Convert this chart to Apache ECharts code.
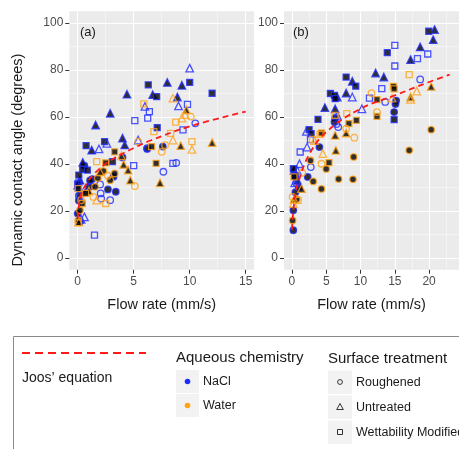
<!DOCTYPE html>
<html>
<head>
<meta charset="utf-8">
<script src="https://cdn.jsdelivr.net/npm/echarts@6/dist/echarts.min.js"></script>
<style>html,body{margin:0;padding:0;background:#fff}#c{width:459px;height:449px}</style>
</head>
<body>
<div id="c"></div>
<script>
// ---------- tick labels ----------
const xTicksA = [0, 5, 10, 15];
const xMinorA = [2.5, 7.5, 12.5];
const xTicksB = [0, 5, 10, 15, 20];
const xMinorB = [2.5, 7.5, 12.5, 17.5, 22.5];
const yTicks = [0, 20, 40, 60, 80, 100];
const yMinor = [10, 30, 50, 70, 90];
const panelLabels = ['(a)', '(b)'];
const xTitle = 'Flow rate (mm/s)';
const yTitle = 'Dynamic contact angle (degrees)';
const chemistry = ['NaCl', 'Water'];
const treatment = ['Roughened', 'Untreated', 'Wettability Modified'];

// ---------- Joos' equation ----------
const joosA = [[0,17],[0.1,22],[0.3,27],[0.7,31],[1.5,36],[3,41.7],[5,46.8],[6.5,50],[10,56],[15,62.3]];
const joosB = [[0,12],[0.2,20],[0.5,27],[1,33],[2.5,44],[5,53.6],[10,63.5],[15,69.2],[20,74.9],[23,78]];

// ---------- panel (a) ----------
const aNaClFilledCircle = [[0.6,39.3],[1.3,33.6],[4.0,42.8],[3.2,34.6],[3.4,28.2],[2.7,29.2],[7.6,47.4],[0.2,26.7],[0,18.9],[0.2,15.4],[0.8,27.9],[1.0,30.3],[6.2,46.4],[0.1,24.5],[1.1,33]];
const aNaClFilledTri = [[4.4,69.7],[2.9,61.6],[1.6,56.6],[8.0,74.7],[9.3,73.5],[6.7,69.5],[8.9,68.5],[4.0,51],[4.2,48.1],[0.45,40.7],[1.25,45.9],[0,31],[0.2,33.1]];
const aNaClFilledSq = [[6.3,73.7],[7.05,68.7],[10.0,74.7],[12.0,70.1],[2.4,49.5],[0.75,47.8],[7.1,55.5],[0.1,35.3],[0.45,37.7],[3.1,41],[0.86,37.4],[0,31.5]];
const aNaClHollowCircle = [[10.5,57.3],[8.8,40.5],[7.65,36.7],[2.0,31.3],[2.05,27.5],[2.9,24.6],[2.1,25.3],[6.2,46.7],[0.35,23.5],[1.2,30.5],[0.1,26.5]];
const aNaClHollowTri = [[10.0,80.8],[9.0,64.7],[6.0,64.5],[5.4,50.2],[1.9,46.4],[2.6,48.8],[0.6,17.5],[0.1,30.3],[0.3,16.5]];
const aNaClHollowSq = [[6.4,62.3],[6.25,59.5],[5.1,58.5],[9.8,65.4],[9.4,54.5],[8.5,40.3],[5.0,39.3],[1.5,9.7],[0.1,32]];
const aWaterFilledCircle = [[3.3,36],[2.9,33.1],[1.55,30.3],[0.2,20.3],[0.05,16],[1.8,34],[2.3,37]];
const aWaterFilledTri = [[9.7,63],[9.2,47.8],[12.0,49.1],[7.35,32],[4.7,33.1],[4.1,39.8],[4.5,37.4],[2.0,36.7],[0.1,15.4],[1.0,28.5]];
const aWaterFilledSq = [[7.0,40.3],[3.3,45.2],[6.6,47.4],[0.4,23.2],[0.7,27.5],[2.5,40.5],[0.05,29.5]];
const aWaterHollowCircle = [[10.1,60.2],[5.4,49.5],[7.5,45.2],[5.1,30.6],[2.7,35],[1.4,26],[0.3,24.6],[7.8,48]];
const aWaterHollowTri = [[8.5,68],[9.3,59.5],[8.5,50.2],[10.2,46.2],[3.9,43.5],[1.7,24.6],[9.6,61]];
const aWaterHollowSq = [[5.9,65.6],[8.75,57.8],[10.2,49.5],[6.8,53.8],[1.7,41],[2.5,23.2],[0.05,15],[8.3,53]];

// ---------- panel (b) ----------
const bNaClFilledSq = [[19.95,96.5],[13.9,87.4],[7.9,77],[9.3,73.1],[5.6,70],[6.2,69.2],[3.8,59],[2.5,54.6],[2.8,52.9],[0.2,38],[14.9,58.9],[6.3,67.8],[0.5,35]];
const bNaClFilledTri = [[20.8,97.2],[20.6,92.9],[18.7,89.8],[17.3,84.4],[12.2,78.7],[13.4,77],[8.8,75.2],[7.9,70.2],[6.6,68.5],[4.8,64],[6.3,63.5],[0.3,37.3],[0.8,33]];
const bNaClFilledCircle = [[4.0,47.2],[2.3,34.5],[0.2,11.8],[0.2,20.3],[14.9,62.1],[15.2,67],[0.5,28],[6.3,59.6],[6.2,57.9],[15.1,65.5],[1.0,30]];
const bNaClHollowTri = [[2.1,53.9],[2.2,47.2],[1.1,40.1],[0.75,37.3],[10.2,63.5],[8.8,68.5],[6.6,60.7],[0.4,32]];
const bNaClHollowSq = [[19.8,86.8],[18.3,84.8],[15.0,90.5],[15.0,81.7],[13.1,72.1],[11.3,68],[2.7,50.4],[1.2,45.1]];
const bNaClHollowCircle = [[18.7,76],[13.6,66.4],[6.75,55.7],[2.75,38.7],[0.6,31.9],[6.5,57]];
const bWaterFilledSq = [[14.8,73],[12.4,60.3],[12.4,67.4],[8.3,57.2],[9.4,58.6],[4.3,53.2],[5.4,40.6],[0.3,34.5],[14.9,72]];
const bWaterFilledTri = [[20.3,73],[17.3,68.5],[7.9,53.2],[6.3,52.2],[6.4,45.8],[1.4,29.5],[0.3,25]];
const bWaterFilledCircle = [[20.3,54.6],[17.1,45.8],[9.0,43],[8.9,33.5],[6.8,33.6],[4.3,29.4],[5.0,37.9],[3.1,32.6],[0.1,16],[2.7,41.5],[0.7,25]];
const bWaterHollowSq = [[17.1,78],[8.0,61.4],[6.3,60.7],[4.1,52.6],[0.9,24.5],[3.0,50.5]];
const bWaterHollowTri = [[18.2,71],[17.3,67.5],[4.5,44.4],[3.3,50],[0.2,23.1],[14.6,68]];
const bWaterHollowCircle = [[11.6,70.2],[12.4,62.1],[9.1,51.2],[4.3,40.1],[1.5,36.3],[0.1,26],[7.9,55]];

// ---------- styling ----------
const BLUE = '#1f2cff';
const ORANGE = '#ffa31a';
const FONT = '"Liberation Sans", Arial, sans-serif';
const SYM = { circle: ['circle', 6.5], tri: ['triangle', 7.5], sq: ['rect', 6] };

function scatter(data, axisIdx, shape, color, filled) {
  return {
    type: 'scatter', xAxisIndex: axisIdx, yAxisIndex: axisIdx, data: data,
    symbol: SYM[shape][0], symbolSize: SYM[shape][1], clip: false, silent: true, z: 3,
    itemStyle: { color: filled ? '#000' : 'rgba(0,0,0,0)', borderColor: color, borderWidth: 1.3 }
  };
}
function joos(data, axisIdx) {
  return {
    type: 'line', xAxisIndex: axisIdx, yAxisIndex: axisIdx, data: data, smooth: 0.4,
    showSymbol: false, silent: true, z: 5,
    lineStyle: { color: '#ff1a1a', width: 1.8, type: [6, 4] }
  };
}

const panels = [
  { left: 69.3, width: 184.8, min: -0.75, max: 15.75, ticks: xTicksA, minor: xMinorA },
  { left: 284, width: 191, min: -1.16, max: 24.36, ticks: xTicksB, minor: xMinorB }
];
const grids = [], xAxes = [], yAxes = [];
panels.forEach((p, i) => {
  grids.push({ left: p.left, width: p.width, top: 11.25, height: 258.5, show: true,
    backgroundColor: '#ebebeb', borderWidth: 0, containLabel: false });
  // major axis
  xAxes.push({ type: 'value', gridIndex: i, min: p.min, max: p.max, position: 'bottom',
    axisLine: { show: false, onZero: false },
    axisTick: { show: true, customValues: p.ticks, length: 4, lineStyle: { color: '#333', width: 1 } },
    axisLabel: { customValues: p.ticks, color: '#4d4d4d', fontSize: 12, fontFamily: FONT, margin: 6 },
    splitLine: { show: true, lineStyle: { color: '#ffffff', width: 1.1 } },
    name: xTitle, nameLocation: 'middle', nameGap: 28,
    nameTextStyle: { fontSize: 14.5, color: '#1a1a1a', fontFamily: FONT }, z: 2 });
  // minor axis (grid only)
  xAxes.push({ type: 'value', gridIndex: i, min: p.min, max: p.max, position: 'bottom',
    axisLine: { show: false, onZero: false }, axisTick: { show: false, customValues: p.minor },
    axisLabel: { show: false, customValues: p.minor },
    splitLine: { show: true, lineStyle: { color: 'rgba(255,255,255,0.85)', width: 0.55 } }, z: 1 });
  yAxes.push({ type: 'value', gridIndex: i, min: -5, max: 105, position: 'left',
    axisLine: { show: false, onZero: false },
    axisTick: { show: true, customValues: yTicks, length: 4, lineStyle: { color: '#333', width: 1 } },
    axisLabel: { customValues: yTicks, color: '#4d4d4d', fontSize: 12, fontFamily: FONT, margin: 6 },
    splitLine: { show: true, lineStyle: { color: '#ffffff', width: 1.1 } }, z: 2 });
  yAxes.push({ type: 'value', gridIndex: i, min: -5, max: 105, position: 'left',
    axisLine: { show: false, onZero: false }, axisTick: { show: false, customValues: yMinor },
    axisLabel: { show: false, customValues: yMinor },
    splitLine: { show: true, lineStyle: { color: 'rgba(255,255,255,0.85)', width: 0.55 } }, z: 1 });
});

const series = [
  scatter(aNaClFilledCircle, 0, 'circle', BLUE, true),
  scatter(aNaClFilledTri, 0, 'tri', BLUE, true),
  scatter(aNaClFilledSq, 0, 'sq', BLUE, true),
  scatter(aNaClHollowCircle, 0, 'circle', BLUE, false),
  scatter(aNaClHollowTri, 0, 'tri', BLUE, false),
  scatter(aNaClHollowSq, 0, 'sq', BLUE, false),
  scatter(aWaterFilledCircle, 0, 'circle', ORANGE, true),
  scatter(aWaterFilledTri, 0, 'tri', ORANGE, true),
  scatter(aWaterFilledSq, 0, 'sq', ORANGE, true),
  scatter(aWaterHollowCircle, 0, 'circle', ORANGE, false),
  scatter(aWaterHollowTri, 0, 'tri', ORANGE, false),
  scatter(aWaterHollowSq, 0, 'sq', ORANGE, false),
  scatter(bNaClFilledCircle, 2, 'circle', BLUE, true),
  scatter(bNaClFilledTri, 2, 'tri', BLUE, true),
  scatter(bNaClFilledSq, 2, 'sq', BLUE, true),
  scatter(bNaClHollowCircle, 2, 'circle', BLUE, false),
  scatter(bNaClHollowTri, 2, 'tri', BLUE, false),
  scatter(bNaClHollowSq, 2, 'sq', BLUE, false),
  scatter(bWaterFilledCircle, 2, 'circle', ORANGE, true),
  scatter(bWaterFilledTri, 2, 'tri', ORANGE, true),
  scatter(bWaterFilledSq, 2, 'sq', ORANGE, true),
  scatter(bWaterHollowCircle, 2, 'circle', ORANGE, false),
  scatter(bWaterHollowTri, 2, 'tri', ORANGE, false),
  scatter(bWaterHollowSq, 2, 'sq', ORANGE, false),
  joos(joosA, 0),
  joos(joosB, 2)
];

function txt(x, y, text, size, extra) {
  return Object.assign({ type: 'text', x: x, y: y, silent: true,
    style: { text: text, fontSize: size, fontFamily: FONT, fill: '#1a1a1a', textVerticalAlign: 'middle', textAlign: 'left' } }, extra || {});
}
const keyFill = '#f2f2f2';
const graphic = [
  txt(80, 32, panelLabels[0], 13),
  txt(293, 32, panelLabels[1], 13),
  { type: 'text', x: 18, y: 160, rotation: Math.PI / 2, silent: true,
    style: { text: yTitle, fontSize: 14.5, fontFamily: FONT, fill: '#1a1a1a', textAlign: 'center', textVerticalAlign: 'middle' } },
  // legend box
  { type: 'rect', shape: { x: 13.5, y: 336.5, width: 470, height: 130 }, silent: true,
    style: { fill: '#fff', stroke: '#8a8a8a', lineWidth: 1 } },
  { type: 'line', shape: { x1: 22, y1: 353, x2: 146, y2: 353 }, silent: true,
    style: { stroke: '#ff1a1a', lineWidth: 2, lineDash: [8, 5] } },
  txt(22, 378, "Joos\u2019 equation", 14),
  txt(176, 358, 'Aqueous chemistry', 15),
  { type: 'rect', shape: { x: 176, y: 370, width: 23, height: 23 }, silent: true, style: { fill: keyFill } },
  { type: 'rect', shape: { x: 176, y: 394, width: 23, height: 23 }, silent: true, style: { fill: keyFill } },
  { type: 'circle', shape: { cx: 187.5, cy: 381.5, r: 2.8 }, silent: true, style: { fill: BLUE } },
  { type: 'circle', shape: { cx: 187.5, cy: 405.5, r: 2.8 }, silent: true, style: { fill: ORANGE } },
  txt(203, 382, chemistry[0], 12.5),
  txt(203, 406, chemistry[1], 12.5),
  txt(328, 359, 'Surface treatment', 15),
  { type: 'rect', shape: { x: 328, y: 370.5, width: 24, height: 23.5 }, silent: true, style: { fill: keyFill } },
  { type: 'rect', shape: { x: 328, y: 395.5, width: 24, height: 23.5 }, silent: true, style: { fill: keyFill } },
  { type: 'rect', shape: { x: 328, y: 420.5, width: 24, height: 23.5 }, silent: true, style: { fill: keyFill } },
  { type: 'circle', shape: { cx: 340, cy: 382, r: 2.4 }, silent: true, style: { fill: 'none', stroke: '#333', lineWidth: 1 } },
  { type: 'polygon', shape: { points: [[340, 403.5], [343.3, 409.5], [336.7, 409.5]] }, silent: true, style: { fill: 'none', stroke: '#333', lineWidth: 1 } },
  { type: 'rect', shape: { x: 337.5, y: 429.5, width: 5, height: 5 }, silent: true, style: { fill: 'none', stroke: '#333', lineWidth: 1 } },
  txt(356, 382.5, treatment[0], 12.5),
  txt(356, 407.5, treatment[1], 12.5),
  txt(356, 432.5, treatment[2], 12.5)
];

const chart = echarts.init(document.getElementById('c'), null, { renderer: 'canvas' });
chart.setOption({
  animation: false,
  backgroundColor: '#ffffff',
  textStyle: { fontFamily: FONT },
  grid: grids,
  xAxis: xAxes,
  yAxis: yAxes,
  series: series,
  graphic: graphic
});
</script>
</body>
</html>
